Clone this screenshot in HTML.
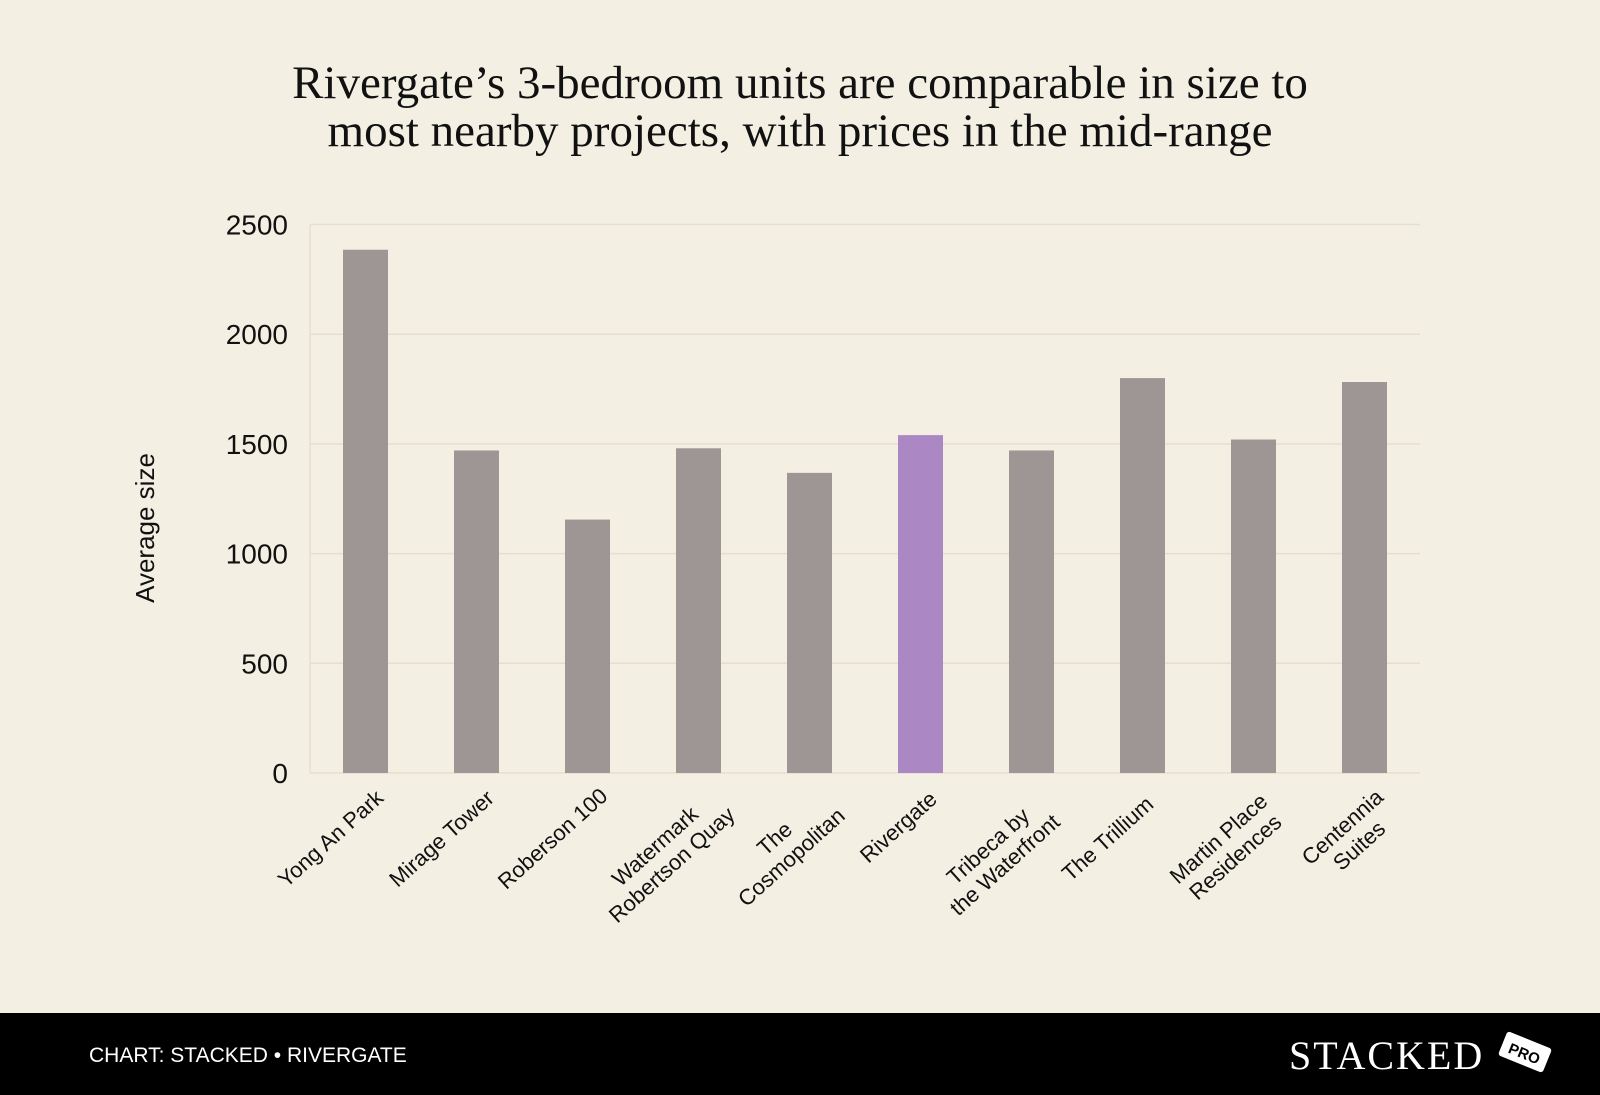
<!DOCTYPE html>
<html><head><meta charset="utf-8"><style>
html,body{margin:0;padding:0;background:#f3efe3;}
svg{display:block;}
</style></head><body>
<svg width="1600" height="1095" viewBox="0 0 1600 1095" xmlns="http://www.w3.org/2000/svg">
<rect x="0" y="0" width="1600" height="1095" fill="#f3efe3"/>
<text x="800" y="98" text-anchor="middle" font-family="Liberation Serif, serif" font-size="47" fill="#111">Rivergate’s 3-bedroom units are comparable in size to</text>
<text x="800" y="146" text-anchor="middle" font-family="Liberation Serif, serif" font-size="47" fill="#111">most nearby projects, with prices in the mid-range</text>
<g id="grid"></g>
<g id="yticks"></g>
<text transform="translate(154,528) rotate(-90)" text-anchor="middle" font-family="Liberation Sans, sans-serif" font-size="26" fill="#111">Average size</text>
<g id="bars"></g>
<g id="xlabels"></g>
<rect x="0" y="1013" width="1600" height="82" fill="#000"/>
<text x="89" y="1062" font-family="Liberation Sans, sans-serif" font-size="21" fill="#fff">CHART: STACKED • RIVERGATE</text>
<text x="1289" y="1069" font-family="Liberation Serif, serif" font-size="40" letter-spacing="2" fill="#fff">STACKED</text>
<g transform="translate(1525,1052) rotate(22)">
<rect x="-24" y="-13" width="48" height="26" rx="3" fill="#fff"/>
<text x="0" y="7" text-anchor="middle" font-family="Liberation Sans, sans-serif" font-weight="bold" font-size="15" fill="#000">PRO</text>
</g>
</svg>
<script>
const categories = [["Yong An Park"],["Mirage Tower"],["Roberson 100"],["Watermark","Robertson Quay"],["The","Cosmopolitan"],["Rivergate"],["Tribeca by","the Waterfront"],["The Trillium"],["Martin Place","Residences"],["Centennia","Suites"]];
const values = [2385, 1470, 1155, 1480, 1368, 1540, 1470, 1800, 1520, 1782];
const highlight = [false,false,false,false,false,true,false,false,false,false];
const yTicks = [0, 500, 1000, 1500, 2000, 2500];
const NS = "http://www.w3.org/2000/svg";
const L = 310, R = 1420, T = 224.5, B = 773, YMAX = 2500;
const y = v => B - (v / YMAX) * (B - T);
const slot = (R - L) / categories.length;
const x = i => L + slot * (i + 0.5);
const grid = document.getElementById('grid');
const yt = document.getElementById('yticks');
yTicks.forEach(t => {
  const ln = document.createElementNS(NS, 'line');
  
  
  ln.setAttribute('x1', L); ln.setAttribute('x2', R);
  ln.setAttribute('y1', y(t)); ln.setAttribute('y2', y(t));
  ln.setAttribute('stroke', '#e4dfd2'); ln.setAttribute('stroke-width', '1.5');
  grid.appendChild(ln);
  const tx = document.createElementNS(NS, 'text');
  
  
  tx.setAttribute('x', 288); tx.setAttribute('y', y(t) + 10);
  tx.setAttribute('text-anchor', 'end');
  tx.setAttribute('font-family', 'Liberation Sans, sans-serif');
  tx.setAttribute('font-size', '28'); tx.setAttribute('fill', '#111');
  tx.textContent = t;
  yt.appendChild(tx);
});
const axis = document.createElementNS(NS, 'line');


axis.setAttribute('x1', L); axis.setAttribute('x2', L);
axis.setAttribute('y1', T); axis.setAttribute('y2', B);
axis.setAttribute('stroke', '#e4dfd2'); axis.setAttribute('stroke-width', '1.5');
grid.appendChild(axis);
const bars = document.getElementById('bars');
const xl = document.getElementById('xlabels');
const bw = 45;
values.forEach((v, i) => {
  const r = document.createElementNS(NS, 'rect');
  
  
  r.setAttribute('x', x(i) - bw / 2); r.setAttribute('width', bw);
  r.setAttribute('y', y(v)); r.setAttribute('height', B - y(v));
  r.setAttribute('fill', highlight[i] ? '#ab88c3' : '#9e9694');
  bars.appendChild(r);
  const g = document.createElementNS(NS, 'text');
  
  
  const lines = categories[i];
  const ax = x(i) + 16, ay = 792;
  g.setAttribute('transform', 'translate(' + ax + ',' + ay + ') rotate(-42)');
  g.setAttribute('font-family', 'Liberation Sans, sans-serif');
  g.setAttribute('font-size', '22'); g.setAttribute('fill', '#111');
  g.setAttribute('text-anchor', 'middle');
  const widths = lines.map(s => s.length * 11.5);
  const maxW = Math.max(...widths);
  lines.forEach((s, k) => {
    const ts = document.createElementNS(NS, 'tspan');
    ts.setAttribute('x', -maxW / 2);
    ts.setAttribute('y', 8 + k * 25);
    ts.textContent = s;
    g.appendChild(ts);
  });
  xl.appendChild(g);
});
</script>
</body></html>
